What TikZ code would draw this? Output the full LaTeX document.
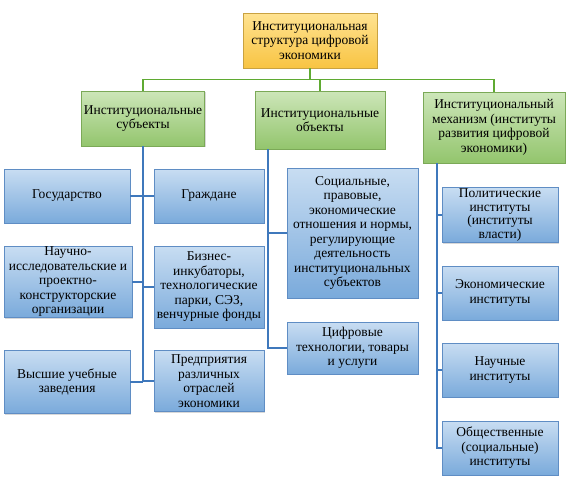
\documentclass[tikz,border=0pt]{standalone}
\usepackage{fontspec}
\setmainfont{Liberation Serif}
\usetikzlibrary{shadows}
\definecolor{ytop}{HTML}{FFE391}
\definecolor{ybot}{HTML}{F8C443}
\definecolor{ybrd}{HTML}{C9A241}
\definecolor{gtop}{HTML}{CDE6B9}
\definecolor{gbot}{HTML}{93C56D}
\definecolor{gbrd}{HTML}{7BA957}
\definecolor{btop}{HTML}{C8DDF2}
\definecolor{bbot}{HTML}{7AAADB}
\definecolor{bbrd}{HTML}{5F8DC4}
\definecolor{gline}{HTML}{5FAA32}
\definecolor{bline}{HTML}{3F78BC}
\tikzset{
  basebox/.style={draw, line width=0.8pt, align=center, inner sep=0pt,
    font=\rmfamily\fontsize{13.5}{14.5}\selectfont,
    drop shadow={opacity=0.3, shadow xshift=1.2pt, shadow yshift=-1.2pt}},
  ybox/.style={basebox, draw=ybrd, top color=ytop, bottom color=ybot},
  gbox/.style={basebox, draw=gbrd, top color=gtop, bottom color=gbot},
  bbox/.style={basebox, draw=bbrd, top color=btop, bottom color=bbot},
  gconn/.style={draw=gline, line width=1.7pt},
  bconn/.style={draw=bline, line width=1.7pt},
}
\begin{document}
\begin{tikzpicture}[x=1pt,y=-1pt]
\useasboundingbox[fill=white] (0,0) rectangle (567,480);

\node[ybox, minimum width=134pt, minimum height=55pt] (top) at (310,40.5)
  {Институциональная\\структура цифровой\\экономики};

\node[gbox, minimum width=123pt, minimum height=55pt] (G1) at (143,118.5)
  {Институциональные\\субъекты};
\node[gbox, minimum width=130pt, minimum height=58pt] (G2) at (320,120)
  {Институциональные\\объекты};
\node[gbox, minimum width=142pt, minimum height=71pt] (G3) at (494,127.5)
  {Институциональный\\механизм (институты\\развития цифровой\\экономики)};

\node[bbox, minimum width=126pt, minimum height=54pt] (A1) at (67,196) {Государство};
\node[bbox, minimum width=110pt, minimum height=54pt] (B1) at (209,196) {Граждане};
\node[bbox, minimum width=128pt, minimum height=71pt] (A2) at (68,282)
  {Научно-\\исследовательские и\\проектно-\\конструкторские\\организации};
\node[bbox, minimum width=110pt, minimum height=82pt] (B2) at (209,287)
  {Бизнес-\\инкубаторы,\\технологические\\парки, СЭЗ,\\венчурные фонды};
\node[bbox, minimum width=126pt, minimum height=63pt] (A3) at (67,382)
  {Высшие учебные\\заведения};
\node[bbox, minimum width=110pt, minimum height=61pt] (B3) at (209,381)
  {Предприятия\\различных\\отраслей\\экономики};

\node[bbox, minimum width=131pt, minimum height=130pt] (C1) at (352.5,233)
  {Социальные,\\правовые,\\экономические\\отношения и нормы,\\регулирующие\\деятельность\\институциональных\\субъектов};
\node[bbox, minimum width=131pt, minimum height=52pt] (C2) at (352.5,348)
  {Цифровые\\технологии, товары\\и услуги};

\node[bbox, minimum width=116pt, minimum height=55pt, font=\rmfamily\fontsize{13.5}{13.5}\selectfont] (D1) at (500,215)
  {Политические\\институты\\(институты\\власти)};
\node[bbox, minimum width=116pt, minimum height=54pt] (D2) at (500,293)
  {Экономические\\институты};
\node[bbox, minimum width=116pt, minimum height=54pt] (D3) at (500,370)
  {Научные\\институты};
\node[bbox, minimum width=116pt, minimum height=54pt] (D4) at (500,448)
  {Общественные\\(социальные)\\институты};

% green connectors
\draw[gconn] (top.south) -- ++(0,11) coordinate (hub);
\draw[gconn] (G1.north) |- (hub);
\draw[gconn] (G3.north) |- (hub);
\draw[gconn] (G2.north) -- (G2.north |- hub);

% left column
\draw[bconn] (G1.south) -- (G1.south |- A3.east);
\draw[bconn] (A1.east) -- (B1.west);
\draw[bconn] (A2.east) -- (A2.east -| G1.south);
\draw[bconn] (B2.west) -- (B2.west -| G1.south);
\draw[bconn] (A3.east) -- (A3.east -| G1.south);
\draw[bconn] (B3.west) -- (B3.west -| G1.south);

% middle column
\coordinate (mt) at (268,0);
\draw[bconn] (G2.south -| mt) -- (C2.west -| mt) -- (C2.west);
\draw[bconn] (C1.west) -- (C1.west -| mt);

% right column
\coordinate (rt) at (437,0);
\draw[bconn] (G3.south -| rt) -- (D4.west -| rt) -- (D4.west);
\draw[bconn] (D1.west) -- (D1.west -| rt);
\draw[bconn] (D2.west) -- (D2.west -| rt);
\draw[bconn] (D3.west) -- (D3.west -| rt);
\end{tikzpicture}
\end{document}
